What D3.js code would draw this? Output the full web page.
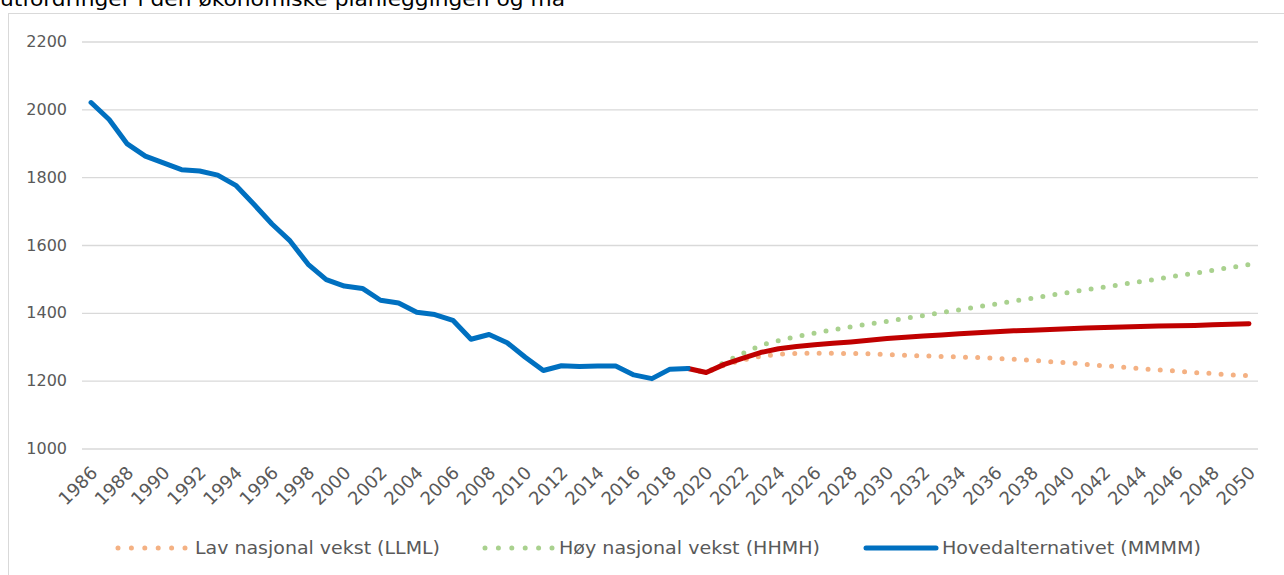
<!DOCTYPE html>
<html>
<head>
<meta charset="utf-8">
<script src="https://cdn.jsdelivr.net/npm/d3@7"></script>
<style>
  html, body { margin: 0; padding: 0; background: #fff; overflow: hidden; }
  svg { display: block; }
  text { font-family: "DejaVu Sans", Verdana, sans-serif; }
</style>
</head>
<body>
<svg id="chart" width="1284" height="575"></svg>
<script>
// ---- Data ----
const years = d3.range(1986, 2051);
const histYears = d3.range(1986, 2020);
const histValues = [2020, 1970, 1898, 1862, 1842, 1822, 1818, 1806, 1776, 1720,
                    1662, 1612, 1543, 1498, 1479, 1472, 1437, 1429, 1402, 1395,
                    1378, 1322, 1336, 1312, 1269, 1230, 1244, 1242, 1243, 1243,
                    1217, 1206, 1234, 1236];
const projYears = d3.range(2019, 2051);
const mainValues = [1236, 1224, 1248, 1266, 1283, 1294, 1301, 1306, 1310, 1314,
                    1319, 1324, 1328, 1332, 1335, 1338, 1341, 1344, 1347, 1349,
                    1351, 1353, 1355, 1357, 1358, 1360, 1361, 1362, 1363, 1365,
                    1366, 1368];
const highValues = [1236, 1224, 1254, 1280, 1304, 1318, 1330, 1340, 1350, 1359,
                    1367, 1375, 1384, 1392, 1401, 1409, 1418, 1426, 1435, 1443,
                    1452, 1460, 1468, 1476, 1484, 1492, 1500, 1509, 1517, 1525,
                    1534, 1542];
const lowValues  = [1236, 1224, 1246, 1261, 1272, 1278, 1280, 1281, 1281, 1280,
                    1279, 1277, 1275, 1273, 1271, 1270, 1268, 1266, 1263, 1260,
                    1256, 1253, 1248, 1244, 1240, 1235, 1232, 1228, 1224, 1221,
                    1217, 1215];
const yTicks = [1000, 1200, 1400, 1600, 1800, 2000, 2200];
const xTickYears = d3.range(1986, 2051, 2);
const legendLabels = ["Lav nasjonal vekst (LLML)", "Høy nasjonal vekst (HHMH)", "Hovedalternativet (MMMM)"];
const topText = "utfordringer i den økonomiske planleggingen og må";

// ---- Setup ----
const FONT = "'DejaVu Sans', Verdana, sans-serif";
const svg = d3.select("#chart");
const x = d3.scaleBand().domain(years).range([82, 1258]);
const cx = yr => x(yr) + x.bandwidth() / 2;
const y = d3.scaleLinear().domain([1000, 2200]).range([448.5, 41.5]);

// Paragraph text at top, partly above the page edge as in the reference
svg.append("text").attr("x", 0).attr("y", 5.5)
  .attr("font-size", 19).attr("fill", "#000").attr("font-family", FONT)
  .attr("textLength", 565).attr("lengthAdjust", "spacingAndGlyphs")
  .text(topText);

// Frame
svg.append("rect").attr("x", 8.5).attr("y", 13.5).attr("width", 1300).attr("height", 600)
  .attr("fill", "none").attr("stroke", "#D9D9D9").attr("stroke-width", 1);

// Gridlines + y labels
const yAxis = d3.axisLeft(y).tickValues(yTicks).tickSize(-(1258 - 82)).tickPadding(15)
  .tickFormat(d3.format("d"));
const gy = svg.append("g").attr("transform", "translate(82,0)").call(yAxis);
gy.select(".domain").remove();
gy.selectAll(".tick line").attr("stroke", "#D9D9D9").attr("stroke-width", 1.4);
gy.selectAll(".tick text").attr("font-size", 16).attr("fill", "#595959")
  .attr("font-family", FONT);

// X labels
const xAxis = d3.axisBottom(x).tickValues(xTickYears).tickSize(0);
const gx = svg.append("g").attr("transform", "translate(0,448.5)").call(xAxis);
gx.select(".domain").remove();
gx.selectAll(".tick text")
  .attr("font-size", 18).attr("fill", "#595959")
  .attr("font-family", FONT)
  .attr("text-anchor", "end")
  .attr("dy", "0.35em").attr("y", 0)
  .attr("transform", "translate(3,21) rotate(-45)");

// Lines
const line = d3.line().x(d => cx(d[0])).y(d => y(d[1]));
const dotted = (vals, color) => svg.append("path")
  .attr("d", line(projYears.map((yr, i) => [yr, vals[i]])))
  .attr("fill", "none").attr("stroke", color).attr("stroke-width", 5)
  .attr("stroke-linecap", "round").attr("stroke-dasharray", "0 12.2");
dotted(lowValues, "#F4B183");
dotted(highValues, "#A9D18E");

svg.append("path").attr("d", line(projYears.map((yr, i) => [yr, mainValues[i]])))
  .attr("fill", "none").attr("stroke", "#C00000").attr("stroke-width", 5)
  .attr("stroke-linejoin", "round").attr("stroke-linecap", "round");
svg.append("path").attr("d", line(histYears.map((yr, i) => [yr, histValues[i]])))
  .attr("fill", "none").attr("stroke", "#0070C0").attr("stroke-width", 5)
  .attr("stroke-linejoin", "round").attr("stroke-linecap", "round");

// Legend
const legY = 548;
const legItems = [
  {x0: 118, x1: 185, tx: 195, tw: 245, color: "#F4B183", dash: "0 13.4"},
  {x0: 485, x1: 552, tx: 559, tw: 261, color: "#A9D18E", dash: "0 13.4"},
  {x0: 866, x1: 936, tx: 942, tw: 259, color: "#0070C0", dash: null}
];
legItems.forEach((it, i) => {
  const l = svg.append("line").attr("x1", it.x0).attr("x2", it.x1)
    .attr("y1", legY).attr("y2", legY).attr("stroke", it.color)
    .attr("stroke-width", 5).attr("stroke-linecap", "round");
  if (it.dash) l.attr("stroke-dasharray", it.dash);
  svg.append("text").attr("x", it.tx).attr("y", legY).attr("dy", "0.35em")
    .attr("font-size", 17).attr("fill", "#595959").attr("font-family", FONT)
    .attr("textLength", it.tw).attr("lengthAdjust", "spacingAndGlyphs")
    .text(legendLabels[i]);
});
</script>
</body>
</html>
